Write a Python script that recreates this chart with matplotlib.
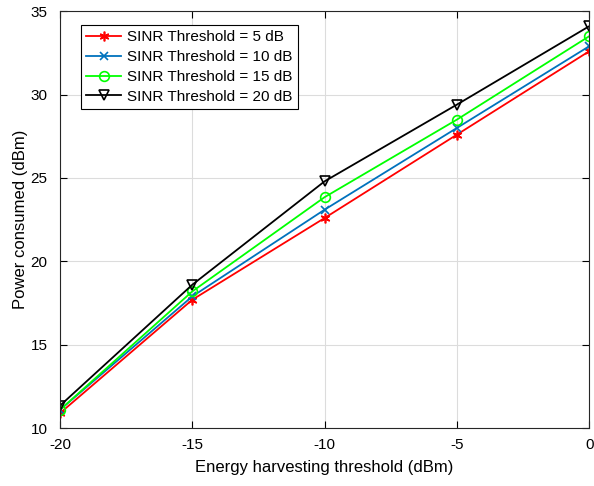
import matplotlib
matplotlib.use('Agg')
import matplotlib.pyplot as plt
import numpy as np

plt.rcParams['font.family'] = ['Liberation Sans', 'DejaVu Sans']
plt.rcParams['axes.unicode_minus'] = False

# data
eh_threshold = [-20, -15, -10, -5, 0]
p_5db = [10.9, 17.7, 22.6, 27.6, 32.6]
p_10db = [11.1, 17.9, 23.1, 28.0, 32.9]
p_15db = [11.1, 18.2, 23.85, 28.5, 33.5]
p_20db = [11.35, 18.6, 24.8, 29.4, 34.1]
labels = ['SINR Threshold = 5 dB', 'SINR Threshold = 10 dB',
          'SINR Threshold = 15 dB', 'SINR Threshold = 20 dB']

fig = plt.figure(figsize=(5.94, 4.86), dpi=100)
ax = fig.add_axes([0.101, 0.119, 0.891, 0.858])

ax.plot(eh_threshold, p_5db, color='red', marker=(6, 2, 0), markersize=7, mew=1.2, lw=1.3, label=labels[0])
ax.plot(eh_threshold, p_10db, color=(0, 0.447, 0.741), marker='x', markersize=6, mew=1.2, lw=1.3, label=labels[1])
ax.plot(eh_threshold, p_15db, color=(0, 1, 0), marker='o', markersize=7, mfc='none', mew=1.2, lw=1.3, label=labels[2])
ax.plot(eh_threshold, p_20db, color='black', marker='v', markersize=7, mfc='none', mew=1.2, lw=1.3, label=labels[3])

ax.set_xlim(-20, 0)
ax.set_ylim(10, 35)
ax.set_xticks([-20, -15, -10, -5, 0])
ax.set_yticks([10, 15, 20, 25, 30, 35])
ax.grid(True, color='#dcdcdc', lw=0.8)
ax.set_axisbelow(True)
ax.tick_params(direction='in', labelsize=11, top=True, right=True, length=5)
ax.tick_params(axis='x', pad=7)
ax.tick_params(axis='y', pad=9)
for s in ax.spines.values():
    s.set_color('#262626')
    s.set_linewidth(0.8)
ax.set_xlabel('Energy harvesting threshold (dBm)', fontsize=12, labelpad=6)
ax.set_ylabel('Power consumed (dBm)', fontsize=12, labelpad=2)

leg = ax.legend(loc='upper left', bbox_to_anchor=(0.025, 0.985), fontsize=11,
                fancybox=False, edgecolor='black', framealpha=1,
                handlelength=2.3, borderpad=0.35, labelspacing=0.38, handletextpad=0.4)
leg.get_frame().set_linewidth(0.8)

fig.savefig('out.png', dpi=100)
